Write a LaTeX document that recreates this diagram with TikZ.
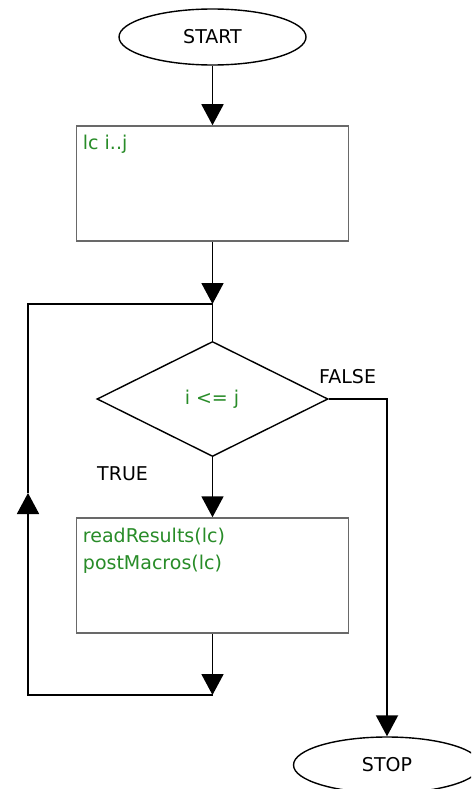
\documentclass[tikz,border=0pt]{standalone}
\usepackage{fontspec}
\setmainfont{DejaVu Sans}
\usetikzlibrary{shapes.geometric,arrows.meta}
\definecolor{codegreen}{RGB}{40,140,40}
\definecolor{boxgray}{RGB}{105,105,105}
\begin{document}
\begin{tikzpicture}[x=1pt,y=-1pt,
  every node/.style={font=\fontsize{19pt}{23pt}\selectfont},
  terminal/.style={ellipse,draw=black,line width=1.4pt,minimum width=187pt,minimum height=56pt,inner sep=0pt},
  process/.style={rectangle,draw=boxgray,line width=1.5pt,minimum width=272pt,minimum height=115pt,inner sep=0pt},
  decision/.style={diamond,draw=black,line width=1.4pt,minimum width=231pt,minimum height=115pt,inner sep=0pt},
  code/.style={text=codegreen,anchor=base west,inner sep=0pt},
  tag/.style={anchor=base west,inner sep=0pt},
  link/.style={line width=1.9pt},
  flow/.style={link,-{Triangle[width=22pt,length=21pt]}}
]
\useasboundingbox (0,0) rectangle (471,789);
\clip (0,0) rectangle (471,789);
\fill[white] (0,0) rectangle (471,789);

% shapes
\node[terminal] (start) at (212.5,37) {START};
\node[process] (init) at (212.5,183.5) {};
\node[decision] (cond) at (212.5,399) {};
\node[process] (body) at (212.5,575.5) {};
\node[terminal] (stop) at (387,765) {STOP};

% texts
\node[code] (initText) at ([shift={(7pt,-24pt)}]init.north west) {lc i..j};
\node[text=codegreen,inner sep=0pt] (condText) at (212,399) {i <= j};
\node[code] (bodyText1) at ([shift={(7pt,-25pt)}]body.north west) {readResults(lc)};
\node[code] (bodyText2) at ([shift={(7pt,-52pt)}]body.north west) {postMacros(lc)};
\node[tag] (trueTag) at (97,480) {TRUE};
\node[tag] (falseTag) at (319,383) {FALSE};

% junctions and corners
\coordinate (jTop) at (212.5,304);
\coordinate (jBot) at (212.5,695);
\coordinate (loopBL) at (28,695);
\coordinate (loopMid) at (28,493);
\coordinate (loopTL) at (28,304);
\coordinate (falseCorner) at (387,399);

% connectors
\draw[flow] (start) -- (init);
\draw[flow] (init.south) -- (jTop);
\draw[link] (jTop) -- (cond.north);
\draw[flow] (cond.south) -- (body.north);
\draw[flow] (body.south) -- (jBot);
\draw[flow] (jBot) -- (loopBL) -- (loopMid);
\draw[link] (loopMid) -- (loopTL) -- (jTop);
\draw[flow] (cond.east) -- (falseCorner) -- (stop.north);
\end{tikzpicture}
\end{document}
